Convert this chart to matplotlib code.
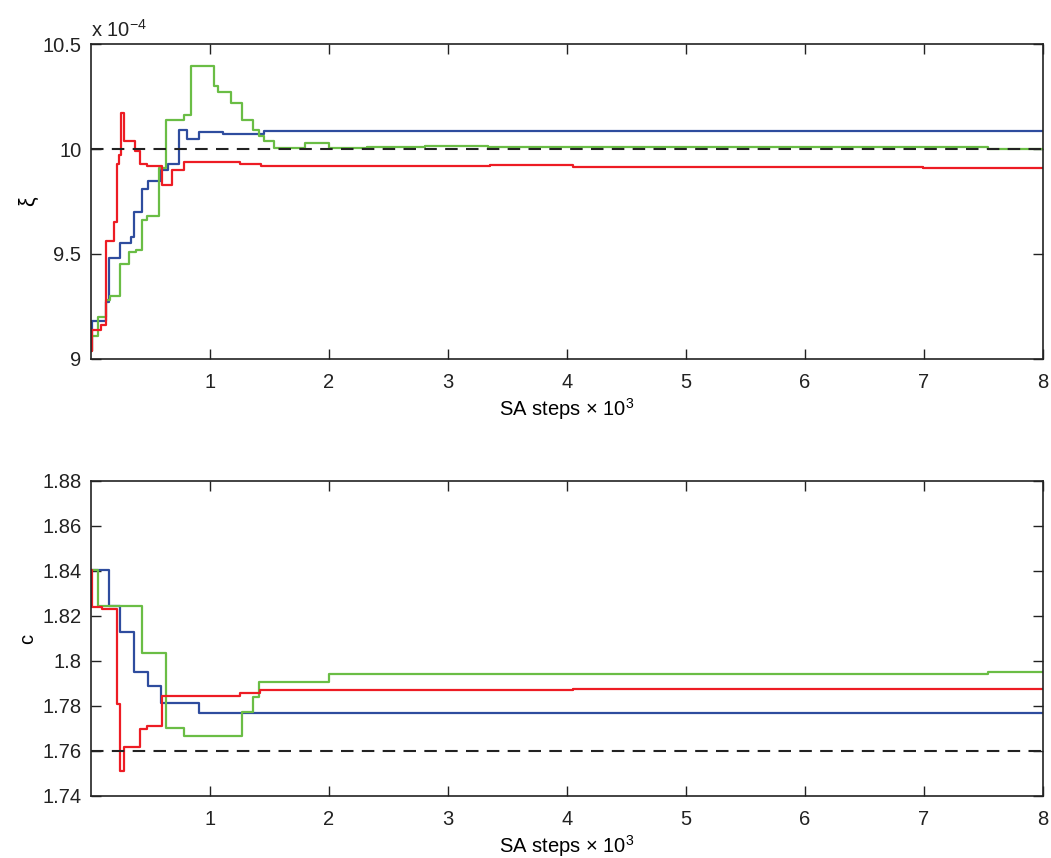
import numpy as np
import matplotlib
matplotlib.use("Agg")
import matplotlib.pyplot as plt

plt.rcParams['font.family'] = ['Liberation Sans', 'DejaVu Sans']
plt.rcParams['mathtext.fontset'] = 'custom'
plt.rcParams['mathtext.rm'] = 'Liberation Sans'
plt.rcParams['mathtext.it'] = 'Liberation Sans:italic'

# SA steps (x 10^3) where each run changes value, and the value held after it
# --- top panel: xi (x 1e-4) ---
red_xi_x = [0.0, 0.005, 0.08, 0.126, 0.19, 0.215, 0.235, 0.25, 0.277, 0.37, 0.41, 0.47,
            0.60, 0.68, 0.78, 1.25, 1.43, 3.35, 4.05, 6.99, 8.0]
red_xi_y = [9.04, 9.14, 9.16, 9.56, 9.65, 9.93, 9.97, 10.17, 10.04, 9.99, 9.93, 9.92,
            9.83, 9.90, 9.94, 9.93, 9.918, 9.922, 9.915, 9.91, 9.91]

blue_xi_x = [0.0, 0.005, 0.13, 0.15, 0.24, 0.34, 0.36, 0.43, 0.48, 0.59, 0.65, 0.74,
             0.81, 0.91, 1.11, 1.45, 8.0]
blue_xi_y = [9.04, 9.18, 9.27, 9.48, 9.55, 9.58, 9.70, 9.81, 9.85, 9.90, 9.93, 10.09,
             10.05, 10.08, 10.07, 10.085, 10.085]

green_xi_x = [0.0, 0.005, 0.06, 0.13, 0.16, 0.24, 0.32, 0.38, 0.43, 0.47, 0.57, 0.63,
              0.78, 0.84, 1.03, 1.07, 1.18, 1.27, 1.36, 1.41, 1.45, 1.54, 1.80, 2.0,
              2.32, 2.81, 3.34, 7.54, 8.0]
green_xi_y = [9.04, 9.11, 9.20, 9.28, 9.30, 9.45, 9.51, 9.52, 9.66, 9.68, 9.91, 10.14,
              10.16, 10.395, 10.30, 10.27, 10.22, 10.14, 10.09, 10.06, 10.04, 10.005, 10.03, 10.006,
              10.01, 10.014, 10.01, 10.0, 10.0]

xi_true = 10.0

# --- bottom panel: c ---
red_c_x = [0.0, 0.005, 0.09, 0.215, 0.24, 0.28, 0.41, 0.47, 0.60, 1.25, 1.42, 4.05, 8.0]
red_c_y = [1.8404, 1.8239, 1.8231, 1.7809, 1.7512, 1.7619, 1.7696, 1.7711, 1.7844, 1.7859,
           1.7871, 1.7876, 1.7876]

blue_c_x = [0.0, 0.15, 0.24, 0.36, 0.48, 0.59, 0.91, 8.0]
blue_c_y = [1.8404, 1.8244, 1.8130, 1.7950, 1.7889, 1.7815, 1.7770, 1.7770]

green_c_x = [0.0, 0.06, 0.43, 0.63, 0.78, 1.27, 1.36, 1.41, 2.0, 3.34, 7.54, 8.0]
green_c_y = [1.8404, 1.8244, 1.8037, 1.7701, 1.7667, 1.7772, 1.7839, 1.7905, 1.7941,
             1.7944, 1.7950, 1.7950]

c_true = 1.76

xticks = [1, 2, 3, 4, 5, 6, 7, 8]
xi_ticks = [9, 9.5, 10, 10.5]
xi_ticklabels = ["9", "9.5", "10", "10.5"]
c_ticks = [1.74, 1.76, 1.78, 1.80, 1.82, 1.84, 1.86, 1.88]
c_ticklabels = ["1.74", "1.76", "1.78", "1.8", "1.82", "1.84", "1.86", "1.88"]

RED = "#ed1c24"
BLUE = "#2e4c9e"
GREEN = "#6abd45"
FS = 14.5

fig = plt.figure(figsize=(10.51, 8.58), dpi=100)
ax1 = fig.add_axes([0.0866, 0.5816, 0.9058, 0.3671])
ax2 = fig.add_axes([0.0866, 0.0723, 0.9058, 0.3671])

def style(ax):
    ax.set_xlim(0, 8)
    ax.set_xticks(xticks)
    ax.tick_params(direction="in", length=7, width=1, top=True, right=True,
                   labelsize=FS, colors="#222222")
    ax.tick_params(axis="x", pad=10)
    ax.tick_params(axis="y", pad=7)
    for s in ax.spines.values():
        s.set_linewidth(1.2)
        s.set_color("#222222")

lw = 1.6
ax1.plot(blue_xi_x, blue_xi_y, drawstyle="steps-post", color=BLUE, lw=lw)
ax1.plot(green_xi_x, green_xi_y, drawstyle="steps-post", color=GREEN, lw=lw)
ax1.plot(red_xi_x, red_xi_y, drawstyle="steps-post", color=RED, lw=lw)
ax1.axhline(xi_true, color="#222222", lw=1.5, dashes=(6, 4))
style(ax1)
ax1.set_ylim(9, 10.5)
ax1.set_yticks(xi_ticks)
ax1.set_yticklabels(xi_ticklabels)
ax1.set_ylabel("ξ", fontsize=FS + 1)
ax1.yaxis.set_label_coords(-0.055, 0.5)
ax1.set_xlabel(r"SA steps $\times$ 10$^3$", fontsize=FS, labelpad=3)
ax1.text(0.0, 1.01, r"x 10$^{-4}$", transform=ax1.transAxes, fontsize=FS,
         ha="left", va="bottom", color="#222222")

ax2.plot(blue_c_x, blue_c_y, drawstyle="steps-post", color=BLUE, lw=lw)
ax2.plot(green_c_x, green_c_y, drawstyle="steps-post", color=GREEN, lw=lw)
ax2.plot(red_c_x, red_c_y, drawstyle="steps-post", color=RED, lw=lw)
ax2.axhline(c_true, color="#222222", lw=1.5, dashes=(6, 4))
style(ax2)
ax2.set_ylim(1.74, 1.88)
ax2.set_yticks(c_ticks)
ax2.set_yticklabels(c_ticklabels)
ax2.set_ylabel("c", fontsize=FS)
ax2.yaxis.set_label_coords(-0.057, 0.5)
ax2.set_xlabel(r"SA steps $\times$ 10$^3$", fontsize=FS, labelpad=3)

fig.savefig("out.png", dpi=100)
